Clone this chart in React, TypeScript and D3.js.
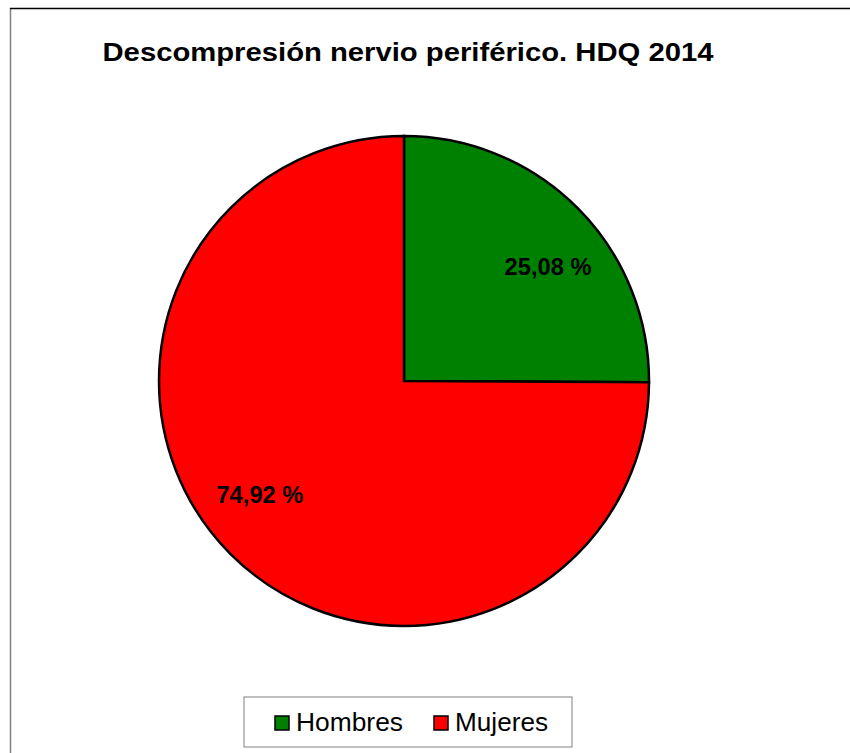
import * as d3 from "d3";

const categories = ["Hombres", "Mujeres"];
const percents = [25.08, 74.92];
const colors = ["#008000", "#FF0000"];
const title = "Descompresión nervio periférico. HDQ 2014";

export default function App() {
  const width = 850;
  const height = 753;
  const cx = 404;
  const cy = 381;
  const r = 245;

  const pie = d3.pie<number>().sort(null).value((d) => d);
  const arcs = pie(percents);
  const arc = d3.arc<d3.PieArcDatum<number>>().innerRadius(0).outerRadius(r);

  // data labels sit a bit clockwise of the slice bisector, like Excel does
  const labelPos = (a: d3.PieArcDatum<number>) => {
    const ang = (a.startAngle + a.endAngle) / 2 + (6.5 * Math.PI) / 180;
    const rr = r * 0.75;
    return [Math.sin(ang) * rr, -Math.cos(ang) * rr];
  };

  const fmt = (v: number) => v.toFixed(2).replace(".", ",") + " %";

  const legendX = 244;
  const legendY = 697;
  const legendWidths = [107, 93];

  return (
    <svg
      width={width}
      height={height}
      style={{ position: "absolute", left: 0, top: 0, fontFamily: "Liberation Sans, Arial, sans-serif" }}
    >
      <rect x={0} y={0} width={width} height={height} fill="white" />
      <line x1={10.5} y1={8} x2={10.5} y2={height} stroke="#808080" strokeWidth={1.5} />
      <line x1={10} y1={8.5} x2={width} y2={8.5} stroke="black" strokeWidth={1.5} />
      <text
        x={408}
        y={61}
        textAnchor="middle"
        fontSize={25.5}
        fontWeight="bold"
        textLength={611}
        lengthAdjust="spacingAndGlyphs"
      >
        {title}
      </text>
      <g transform={`translate(${cx},${cy})`}>
        {arcs.map((a, i) => (
          <path key={categories[i]} d={arc(a) ?? ""} fill={colors[i]} stroke="black" strokeWidth={2.5} />
        ))}
        {arcs.map((a, i) => {
          const [lx, ly] = labelPos(a);
          return (
            <text key={"l" + i} x={lx} y={ly + 8} textAnchor="middle" fontSize={23.5} fontWeight="bold" textLength={87} lengthAdjust="spacingAndGlyphs">
              {fmt(percents[i])}
            </text>
          );
        })}
      </g>
      <rect x={legendX} y={legendY} width={328} height={50} fill="white" stroke="#808080" strokeWidth={1} />
      {categories.map((c, i) => {
        const sx = i === 0 ? 275 : 434;
        return (
          <g key={"leg" + c}>
            <rect x={sx} y={716} width={14} height={14} fill={colors[i]} stroke="black" strokeWidth={1.5} />
            <text x={sx + 21} y={731} fontSize={25.5} textLength={legendWidths[i]} lengthAdjust="spacingAndGlyphs">
              {c}
            </text>
          </g>
        );
      })}
    </svg>
  );
}
